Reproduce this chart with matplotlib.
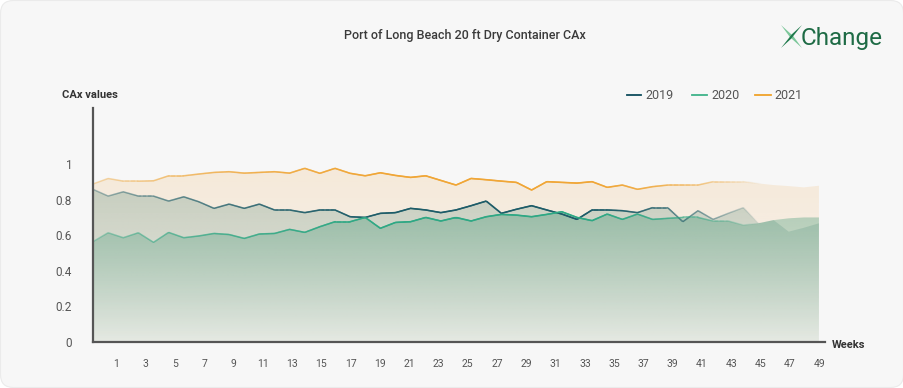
import numpy as np
import matplotlib
matplotlib.use("Agg")
import matplotlib.pyplot as plt
from matplotlib.patches import FancyBboxPatch, Polygon
from matplotlib.collections import LineCollection
from matplotlib.lines import Line2D
from matplotlib.colors import to_rgb

# ---------------- data ----------------
weeks = list(range(1, 50))
cax_2019 = [0.858, 0.820, 0.844, 0.820, 0.820, 0.792, 0.816, 0.788, 0.751, 0.775,
            0.751, 0.775, 0.742, 0.742, 0.727, 0.742, 0.742, 0.704, 0.700, 0.723,
            0.727, 0.751, 0.742, 0.727, 0.742, 0.766, 0.792, 0.723, 0.746, 0.766,
            0.742, 0.719, 0.689, 0.742, 0.742, 0.738, 0.727, 0.755, 0.755, 0.676,
            0.738, 0.689, 0.723, 0.755, 0.667, 0.685, 0.620, 0.642, 0.667]
cax_2020 = [0.564, 0.614, 0.586, 0.614, 0.560, 0.616, 0.586, 0.596, 0.610, 0.604,
            0.582, 0.607, 0.610, 0.633, 0.616, 0.648, 0.676, 0.676, 0.700, 0.639,
            0.672, 0.676, 0.700, 0.680, 0.700, 0.680, 0.704, 0.717, 0.713, 0.704,
            0.717, 0.732, 0.700, 0.682, 0.719, 0.689, 0.719, 0.689, 0.695, 0.700,
            0.700, 0.680, 0.680, 0.657, 0.667, 0.685, 0.695, 0.700, 0.700]
cax_2021 = [0.888, 0.919, 0.904, 0.904, 0.906, 0.934, 0.934, 0.944, 0.953, 0.957,
            0.949, 0.953, 0.957, 0.949, 0.976, 0.948, 0.976, 0.948, 0.934, 0.951,
            0.936, 0.925, 0.934, 0.908, 0.882, 0.919, 0.912, 0.904, 0.897, 0.854,
            0.901, 0.897, 0.893, 0.901, 0.869, 0.882, 0.858, 0.873, 0.882, 0.882,
            0.882, 0.901, 0.901, 0.901, 0.891, 0.882, 0.876, 0.869, 0.878]
series_names = ["2019", "2020", "2021"]
x_tick_labels = list(range(1, 50, 2))
y_ticks = [0, 0.2, 0.4, 0.6, 0.8, 1]
y_tick_labels = ["0", "0.2", "0.4", "0.6", "0.8", "1"]

# ---------------- style ----------------
line_colors = {"2019": "#1d5c68", "2020": "#2ea884", "2021": "#f0a636"}
legend_colors = {"2019": "#0e4c5c", "2020": "#3db389", "2021": "#f0a22a"}
fill_colors = {"2019": (90, 140, 125), "2020": (60, 150, 115), "2021": (240, 170, 80)}
fill_alpha = {"2019": (0.30, 0.05), "2020": (0.36, 0.05), "2021": (0.18, 0.05)}

FONT = ["Roboto", "DejaVu Sans"]
plt.rcParams["font.family"] = FONT

W, H = 904, 388
fig = plt.figure(figsize=(W / 100, H / 100), dpi=100)
fig.patch.set_facecolor("white")
card = FancyBboxPatch((0.005, 0.005), W / 100 - 0.01, H / 100 - 0.01,
                      boxstyle="round,pad=0,rounding_size=0.13",
                      transform=fig.dpi_scale_trans, facecolor="#f7f7f7",
                      edgecolor="#ebebeb", lw=0.8, zorder=0)
fig.add_artist(card)

ax = fig.add_axes([93 / W, 1 - 342 / H, (825 - 93) / W, (342 - 108) / H])
ax.set_facecolor("none")

x = np.array(weeks, dtype=float)
data = {"2019": np.array(cax_2019), "2020": np.array(cax_2020), "2021": np.array(cax_2021)}


def grad_fill(name, z):
    y = data[name]
    verts = np.column_stack([np.r_[x[0], x, x[-1]], np.r_[0, y, 0]])
    poly = Polygon(verts, closed=True, facecolor="none", edgecolor="none")
    ax.add_patch(poly)
    n = 256
    a_top, a_bot = fill_alpha[name]
    ytop = y.max() + 0.01
    img = np.zeros((n, 2, 4))
    img[:, :, :3] = np.array(fill_colors[name]) / 255.0
    img[:, :, 3] = np.linspace(a_bot, a_top, n)[:, None]
    im = ax.imshow(img, extent=(x[0], x[-1], 0, ytop), origin="lower",
                   aspect="auto", zorder=z, interpolation="bilinear")
    im.set_clip_path(poly)


def alpha_profile(t):
    return np.interp(t, [0, 0.42, 0.68, 0.92, 1.0], [0.2, 1.0, 1.0, 0.0, 0.0])


def grad_line(name, z):
    y = data[name]
    xs = np.linspace(x[0], x[-1], 600)
    ys = np.interp(xs, x, y)
    segs = np.stack([np.column_stack([xs[:-1], ys[:-1]]), np.column_stack([xs[1:], ys[1:]])], axis=1)
    tm = ((xs[:-1] + xs[1:]) / 2 - x[0]) / (x[-1] - x[0])
    rgb = to_rgb(line_colors[name])
    cols = [(rgb[0], rgb[1], rgb[2], a) for a in alpha_profile(tm)]
    lc = LineCollection(segs, colors=cols, linewidths=1.15, zorder=z, capstyle="round")
    ax.add_collection(lc)


grad_fill("2021", 1)
grad_fill("2019", 2)
grad_fill("2020", 3)
grad_line("2021", 4)
grad_line("2019", 5)
grad_line("2020", 6)

ax.set_xlim(1, 49.4)
ax.set_ylim(0, 1.315)

for s in ["top", "right"]:
    ax.spines[s].set_visible(False)
for s in ["left", "bottom"]:
    ax.spines[s].set_color("#555555")
    ax.spines[s].set_linewidth(1.6)
    ax.spines[s].set_zorder(10)

ax.set_yticks(y_ticks)
ax.set_yticklabels(y_tick_labels)
# category labels sit on their own scale (label 1 at px 116, label 49 at px 819)
tick_pos = 1 + (116.3 - 93 + (np.array(x_tick_labels) - 1) * 14.645) / 15.125
ax.set_xticks(tick_pos)
ax.set_xticklabels([str(v) for v in x_tick_labels])
ax.tick_params(axis="y", length=0, pad=15, labelsize=8.5, labelcolor="#555555")
ax.tick_params(axis="x", length=0, pad=12, labelsize=7.5, labelcolor="#555555")

# ---------------- texts ----------------
fig.text(465 / W, 1 - 35 / H, "Port of Long Beach 20 ft Dry Container CAx",
         ha="center", va="center", fontsize=9, color="#3a3a3a", weight="medium")
fig.text(62 / W, 1 - 95 / H, "CAx values", ha="left", va="center",
         fontsize=8, color="#333333", weight="bold")
fig.text(832 / W, 1 - 345 / H, "Weeks", ha="left", va="center",
         fontsize=8, color="#333333", weight="bold")

# legend
leg = [("2019", 627, 641, 645), ("2020", 692, 707, 711), ("2021", 755, 771, 774)]
for name, x1, x2, xt in leg:
    fig.add_artist(Line2D([x1 / W, x2 / W], [1 - 95 / H, 1 - 95 / H],
                          transform=fig.transFigure, color=legend_colors[name], lw=1.3))
    fig.text(xt / W, 1 - 95.5 / H, name, ha="left", va="center",
             fontsize=9, color="#555555")

# logo
lax = fig.add_axes([781 / W, 1 - 48 / H, 21 / W, 23 / H])
lax.set_xlim(0, 1)
lax.set_ylim(0, 1)
lax.axis("off")
lax.add_patch(Polygon([(0.0, 1.0), (0.58, 0.52), (1.0, 0.0), (0.42, 0.48)],
                      closed=True, facecolor="#7cc79a", edgecolor="none"))
lax.add_patch(Polygon([(0.0, 0.0), (0.48, 0.40), (1.0, 1.0), (0.52, 0.60)],
                      closed=True, facecolor="#1f7a4c", edgecolor="none"))
fig.text(801 / W, 1 - 38 / H, "Change", ha="left", va="center",
         fontsize=17.5, color="#1e6b45")

fig.savefig("out.png", dpi=100, facecolor=fig.get_facecolor())
